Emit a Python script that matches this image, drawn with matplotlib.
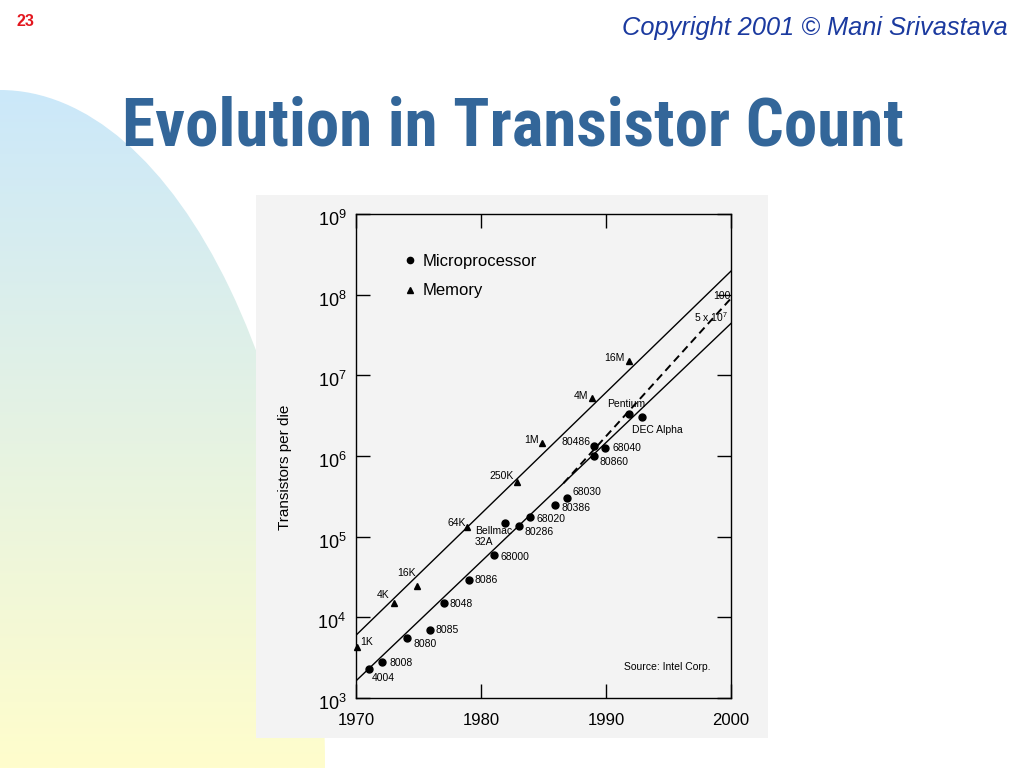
import matplotlib.pyplot as plt
import matplotlib.transforms as mtransforms
import numpy as np
from matplotlib import font_manager
from matplotlib.patches import Ellipse, Rectangle

# data
mem_names = ["1K", "4K", "16K", "64K", "250K", "1M", "4M", "16M"]
mem_years = [1970.1, 1973.0, 1974.9, 1978.9, 1982.9, 1984.9, 1988.9, 1991.8]
mem_counts = [4.3e3, 1.5e4, 2.45e4, 1.33e5, 4.8e5, 1.46e6, 5.2e6, 1.52e7]

cpu_names = ["4004", "8008", "8080", "8085", "8048", "8086", "68000", "Bellmac\n32A",
             "80286", "68020", "80386", "68030", "80486", "80860", "68040",
             "Pentium", "DEC Alpha"]
cpu_years = [1971.0, 1972.1, 1974.1, 1975.9, 1977.0, 1979.0, 1981.0, 1981.9,
             1983.0, 1983.9, 1985.9, 1986.9, 1989.0, 1989.0, 1989.9, 1991.8, 1992.9]
cpu_counts = [2.3e3, 2.8e3, 5.6e3, 7.0e3, 1.5e4, 2.9e4, 6.0e4, 1.46e5,
              1.36e5, 1.74e5, 2.45e5, 3.04e5, 1.33e6, 1.0e6, 1.24e6, 3.3e6, 3.07e6]

# trend lines (end points)
mem_trend_years = [1970, 2000]
mem_trend_counts = [6.0e3, 1.96e8]
cpu_trend_years = [1970, 2000]
cpu_trend_counts = [1.63e3, 4.4e7]
dash_trend_years = [1986.6, 2000]
dash_trend_counts = [4.6e5, 9.0e7]

x_ticks = [1970, 1980, 1990, 2000]
x_ticklabels = ["1970", "1980", "1990", "2000"]
y_ticks = [1e3, 1e4, 1e5, 1e6, 1e7, 1e8, 1e9]
y_ticklabels = [r"$10^{3}$", r"$10^{4}$", r"$10^{5}$", r"$10^{6}$",
                r"$10^{7}$", r"$10^{8}$", r"$10^{9}$"]

# label offsets in pixels (dx, dy, ha)
mem_label_pos = {"1K": (3, 5, "left"), "4K": (-4, 8, "right"), "16K": (-2, 13, "right"),
                 "64K": (-1, 4, "right"), "250K": (-4, 6, "right"), "1M": (-3, 3, "right"),
                 "4M": (-4, 2, "right"), "16M": (-4, 3, "right")}
cpu_label_pos = {"4004": (3, -9, "left"), "8008": (7, -1, "left"), "8080": (6, -6, "left"),
                 "8085": (6, 0, "left"), "8048": (6, -1, "left"), "8086": (6, 0, "left"),
                 "68000": (7, -2, "left"), "Bellmac\n32A": (-30, -13, "left"),
                 "80286": (6, -6, "left"), "68020": (7, -2, "left"), "80386": (7, -3, "left"),
                 "68030": (5, 6, "left"), "80486": (-3, 4, "right"), "80860": (6, -6, "left"),
                 "68040": (8, 0, "left"), "Pentium": (-2, 10, "center"),
                 "DEC Alpha": (-10, -13, "left")}

plt.rcParams["font.family"] = ["Liberation Sans", "DejaVu Sans"]
plt.rcParams["mathtext.fontset"] = "custom"
plt.rcParams["mathtext.rm"] = "Liberation Sans"
plt.rcParams["mathtext.it"] = "Liberation Sans:italic"


def narrow_bold_font():
    # look for a condensed bold sans face for the title
    prefs = ["liberationsansnarrow-bold", "arialnarrow", "robotocondensed-bold",
             "notosans-condensedbold", "opensans-condbold", "opensanscondensed-bold",
             "dejavusanscondensed-bold"]
    files = [f.fname for f in font_manager.fontManager.ttflist]
    for p in prefs:
        for fn in files:
            base = fn.lower().replace(" ", "").split("/")[-1]
            if base.startswith(p) and "italic" not in base and "oblique" not in base:
                return font_manager.FontProperties(fname=fn)
    for fn in files:
        base = fn.lower().split("/")[-1]
        if ("condensed" in base or "narrow" in base) and "bold" in base \
                and "italic" not in base and "extra" not in base and "semi" not in base:
            return font_manager.FontProperties(fname=fn)
    return font_manager.FontProperties(family="Liberation Sans", weight="bold")


W, H = 1024, 768
fig = plt.figure(figsize=(W / 100, H / 100), dpi=100)
fig.patch.set_facecolor("white")

# slide background: gradient quarter ellipse + scanned picture area
bg = fig.add_axes([0, 0, 1, 1], zorder=0)
bg.set_xlim(0, W)
bg.set_ylim(H, 0)
bg.axis("off")
grad = np.linspace(0, 1, 256)[:, None]
top = np.array([203, 232, 250]) / 255
bot = np.array([255, 253, 204]) / 255
img = top[None, None, :] * (1 - grad[:, :, None]) + bot[None, None, :] * grad[:, :, None]
im = bg.imshow(img, extent=[0, 330, H, 88], aspect="auto", interpolation="bilinear")
ell = Ellipse((0, 768), 650, 1356, transform=bg.transData, facecolor="none", edgecolor="none")
bg.add_patch(ell)
im.set_clip_path(ell)
bg.add_patch(Rectangle((256, 195), 512, 543, facecolor="#f3f3f3", edgecolor="none", zorder=3))

# slide texts
fig.text(25 / W, 1 - 22 / H, "23", color="#e3161e", fontsize=11.5, fontweight="bold",
         ha="center", va="center")
fig.text(1008 / W, 1 - 28 / H, "Copyright 2001 \u00a9 Mani Srivastava", color="#1b3a9f",
         fontsize=18.3, style="italic", ha="right", va="center")
title_fp = narrow_bold_font()
title_fp.set_size(49)
title = fig.text(512.5 / W, 1 - 146 / H, "Evolution in Transistor Count", color="#336699",
                 fontproperties=title_fp, ha="center", va="baseline")
fig.canvas.draw()
tw = title.get_window_extent().width
if tw > 790:
    title.set_fontsize(49 * 781 / tw)

# the chart itself
ax = fig.add_axes([356 / W, 1 - 698 / H, 375 / W, 484 / H], zorder=2)
ax.set_facecolor("none")
ax.set_yscale("log")
ax.set_xlim(1970, 2000)
ax.set_ylim(1e3, 1e9)

ax.plot(mem_trend_years, mem_trend_counts, color="black", lw=1.0)
ax.plot(cpu_trend_years, cpu_trend_counts, color="black", lw=1.0)
ax.plot(dash_trend_years, dash_trend_counts, color="black", lw=1.4, linestyle=(0, (4, 2.5)))

ax.plot(cpu_years, cpu_counts, "o", color="black", markersize=5, label="Microprocessor",
        clip_on=False)
ax.plot(mem_years, mem_counts, "^", color="black", markersize=5, label="Memory",
        clip_on=False)

for name, yr, cnt in zip(mem_names, mem_years, mem_counts):
    dx, dy, ha = mem_label_pos[name]
    ax.annotate(name, (yr, cnt), xytext=(dx, dy), textcoords="offset pixels",
                fontsize=7.5, ha=ha, va="center")
for name, yr, cnt in zip(cpu_names, cpu_years, cpu_counts):
    dx, dy, ha = cpu_label_pos[name]
    ax.annotate(name, (yr, cnt), xytext=(dx, dy), textcoords="offset pixels",
                fontsize=7.5, ha=ha, va="center", linespacing=1.1)

ax.text(1998.6, 9.7e7, "100", fontsize=7.5, ha="left", va="center")
ax.text(1998.4, 5.2e7, r"5 x 10$^{7}$", fontsize=7.5, ha="center", va="center")
ax.text(0.714, 0.065, "Source: Intel Corp.", fontsize=7.5, ha="left", va="center",
        transform=ax.transAxes)

ax.set_xticks(x_ticks)
ax.set_xticklabels(x_ticklabels, fontsize=12)
ax.set_yticks(y_ticks)
ax.set_yticklabels(y_ticklabels, fontsize=13)
ax.minorticks_off()
ax.tick_params(axis="both", direction="in", length=10, width=1, top=True, right=True)
ax.tick_params(axis="x", pad=11)
ax.tick_params(axis="y", pad=7)
for s in ax.spines.values():
    s.set_linewidth(1.0)

# the scanned y labels sit a little below their ticks
shift = mtransforms.ScaledTranslation(0, -0.04, fig.dpi_scale_trans)
for lab in ax.get_yticklabels():
    lab.set_transform(lab.get_transform() + shift)

fig.text(285 / W, 1 - 467 / H, "Transistors per die", rotation=90, fontsize=11,
         ha="center", va="center", zorder=5)

ax.legend(loc="upper left", bbox_to_anchor=(0.087, 0.948), frameon=False, fontsize=12,
          handlelength=0.8, handletextpad=0.35, labelspacing=0.85, borderpad=0.4,
          markerscale=0.9)

fig.savefig("out.png", dpi=100)
